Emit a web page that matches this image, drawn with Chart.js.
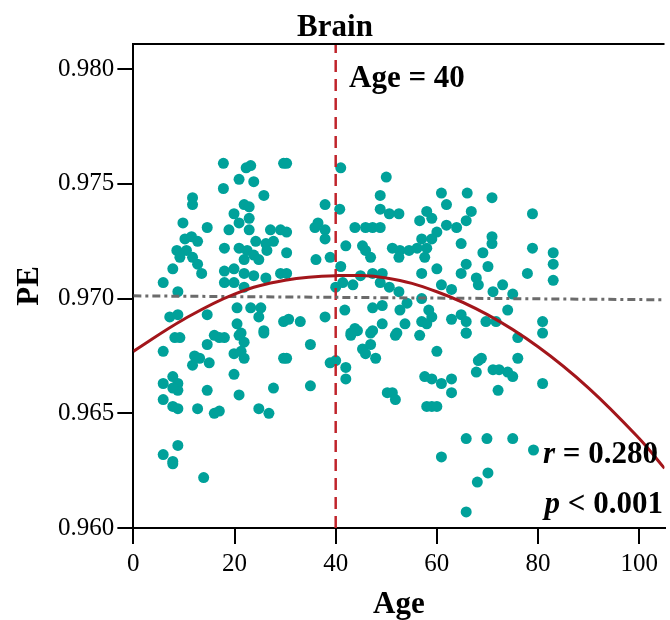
<!DOCTYPE html>
<html>
<head>
<meta charset="utf-8">
<script src="https://cdn.jsdelivr.net/npm/chart.js@4"></script>
<style>
  html, body { margin: 0; padding: 0; background: #fff; }
  #wrap { width: 670px; height: 620px; }
</style>
</head>
<body>
<div id="wrap"><canvas id="brain" width="670" height="620"></canvas></div>
<script>
// scatter points (age, PE)
const ages = [
  8.2, 9.2, 5.9, 12.1, 11.7, 13.1, 15.0, 14.6, 17.0, 18.0, 19.9, 20.9, 21.9, 21.9, 21.3, 25.8, 29.7, 19.9,
  5.9, 7.8, 8.8, 8.8, 7.8, 5.9, 7.8, 8.8, 12.7, 14.6, 20.9, 27.7, 16.0, 17.0, 24.8, 26.8, 5.9, 8.8, 7.8, 7.8, 13.9,
  35.0, 30.3, 38.9, 40.0, 42.0, 42.0, 35.0, 43.0, 44.3, 45.3, 46.9, 45.9, 47.9, 46.9, 51.8, 56.6, 50.2, 51.2, 51.8, 57.6, 58.0,
  65.8, 60.0, 59.0, 60.9, 62.9, 62.9, 59.0, 60.0, 68.2, 68.8, 67.8, 71.1, 72.3, 74.0, 75.0, 72.1, 76.0, 76.0, 80.9,
  65.8, 69.9, 75.0, 60.9, 70.1, 68.0, 79.1, 65.8,
  17.8, 22.3, 23.2, 20.9, 23.8, 17.8, 25.8, 29.7, 11.7, 11.7, 21.9, 22.9, 22.9, 19.9, 9.8, 14.6, 18.9, 20.9, 22.9,
  10.2, 11.5, 12.7, 27.1, 29.1, 24.2, 26.2, 27.7, 18.0, 8.6, 10.5, 20.9, 22.5, 9.2, 11.7, 23.8, 26.4, 12.7, 21.9, 24.8,
  7.8, 13.5, 18.0, 19.9, 21.9, 23.8, 26.2, 29.1, 5.9, 8.8, 18.0, 19.9, 21.9, 7.2, 8.8, 14.6, 20.5, 23.2, 25.2,
  20.5, 21.3, 24.8, 25.8, 16.0, 29.7,
  30.3, 41.0, 50.0, 48.8, 37.9, 40.8, 48.8, 50.6, 52.5, 56.6, 36.5, 35.9, 37.9, 37.9, 43.8, 45.9, 47.3, 48.8, 30.3,
  42.0, 45.3, 45.9, 46.9, 51.2, 52.7, 54.5, 56.1, 57.0, 30.3, 36.1, 38.9, 41.0, 52.5, 57.0, 30.3, 44.9, 47.3, 49.2,
  41.4, 43.4, 40.0, 48.8, 50.6, 52.5, 57.0, 47.3, 49.2, 52.7, 54.1, 41.8, 37.9, 33.0, 30.7, 43.8, 43.0, 47.3, 49.2,
  52.1, 53.7, 57.0,
  60.9, 61.9, 66.0, 70.9, 78.9, 66.8, 65.8, 58.0, 59.0, 61.9, 63.9, 60.0, 59.0, 58.0, 57.6, 64.8, 70.9, 70.9, 78.9,
  83.0, 83.0, 83.0, 69.1, 70.1, 65.8, 64.8, 60.0, 77.9, 67.8, 68.2, 60.9, 62.9, 71.1, 73.0, 75.0, 74.0, 58.4, 59.0,
  58.0, 62.9, 64.8, 65.8, 69.7, 71.7, 80.9, 80.9, 65.8
];
const pe = [
  0.9683, 0.9683, 0.9677, 0.9675, 0.9671, 0.9674, 0.9672, 0.9680, 0.9683, 0.9683, 0.9676, 0.9684, 0.9681, 0.9674, 0.9677, 0.9685, 0.9674, 0.9667,
  0.9663, 0.9666, 0.9663, 0.9660, 0.9661, 0.9656, 0.9653, 0.9652, 0.9652, 0.9660, 0.9658, 0.9661, 0.9650, 0.9651, 0.9652, 0.9650, 0.9632, 0.9636, 0.9628, 0.9629, 0.9622,
  0.9680, 0.9674, 0.9672, 0.9673, 0.9670, 0.9665, 0.9662, 0.9684, 0.9686, 0.9678, 0.9680, 0.9676, 0.9674, 0.9685, 0.9684, 0.9684, 0.9659, 0.9659, 0.9656, 0.9666, 0.9653,
  0.9685, 0.9677, 0.9665, 0.9663, 0.9665, 0.9659, 0.9653, 0.9653, 0.9673, 0.9674, 0.9668, 0.9669, 0.9669, 0.9668, 0.9666, 0.9660, 0.9674, 0.9683, 0.9663,
  0.9639, 0.9639, 0.9639, 0.9631, 0.9624, 0.9620, 0.9634, 0.9607,
  0.9759, 0.9757, 0.9758, 0.9752, 0.9751, 0.9748, 0.9745, 0.9759, 0.9744, 0.9741, 0.9741, 0.9740, 0.9735, 0.9737, 0.9733, 0.9731, 0.9730, 0.9733, 0.9730,
  0.9726, 0.9727, 0.9725, 0.9730, 0.9730, 0.9725, 0.9724, 0.9725, 0.9722, 0.9721, 0.9721, 0.9722, 0.9721, 0.9718, 0.9718, 0.9719, 0.9721, 0.9715, 0.9717, 0.9717,
  0.9713, 0.9711, 0.9712, 0.9713, 0.9711, 0.9710, 0.9709, 0.9711, 0.9707, 0.9703, 0.9707, 0.9707, 0.9705, 0.9692, 0.9693, 0.9693, 0.9696, 0.9696, 0.9696,
  0.9689, 0.9685, 0.9692, 0.9686, 0.9684, 0.9690,
  0.9759, 0.9757, 0.9753, 0.9745, 0.9741, 0.9739, 0.9739, 0.9737, 0.9737, 0.9734, 0.9733, 0.9731, 0.9730, 0.9726, 0.9731, 0.9731, 0.9731, 0.9731, 0.9729,
  0.9723, 0.9723, 0.9721, 0.9718, 0.9722, 0.9721, 0.9721, 0.9722, 0.9726, 0.9720, 0.9717, 0.9718, 0.9714, 0.9718, 0.9711, 0.9711, 0.9710, 0.9711, 0.9711,
  0.9707, 0.9706, 0.9705, 0.9707, 0.9705, 0.9703, 0.9700, 0.9696, 0.9697, 0.9695, 0.9698, 0.9695, 0.9692, 0.9690, 0.9691, 0.9687, 0.9685, 0.9686, 0.9689,
  0.9685, 0.9689, 0.9690,
  0.9746, 0.9741, 0.9746, 0.9744, 0.9737, 0.9738, 0.9734, 0.9738, 0.9735, 0.9732, 0.9731, 0.9729, 0.9726, 0.9722, 0.9718, 0.9724, 0.9727, 0.9724, 0.9722,
  0.9720, 0.9715, 0.9708, 0.9720, 0.9714, 0.9715, 0.9711, 0.9713, 0.9711, 0.9709, 0.9706, 0.9706, 0.9704, 0.9703, 0.9706, 0.9702, 0.9695, 0.9695, 0.9692,
  0.9689, 0.9691, 0.9693, 0.9690, 0.9690, 0.9690, 0.9690, 0.9685, 0.9685
];

// quadratic fit curve, read at these ages
const fitAges = [0, 10, 20, 30, 40, 50, 60, 70, 80, 90, 100, 105];
const fitPE = [0.9677, 0.9691, 0.9702, 0.9708, 0.9710, 0.9709, 0.9703, 0.9693, 0.9679, 0.9661, 0.9639, 0.9626];

// linear reference line (grey dash-dot) and the age marker
const refAges = [0, 105];
const refPE = [0.97012, 0.96995];
const markAge = 40;

const xTicks = [0, 20, 40, 60, 80, 100];
const yTicks = [0.960, 0.965, 0.970, 0.975, 0.980];

const serif = "'Liberation Serif', 'Times New Roman', serif";

const points = ages.map((a, i) => ({x: a, y: pe[i]}));
const fit = fitAges.map((a, i) => ({x: a, y: fitPE[i]}));
const ref = refAges.map((a, i) => ({x: a, y: refPE[i]}));

const extras = {
    id: 'extras',
    afterDatasetsDraw(chart) {
        const ctx = chart.ctx;
        const area = chart.chartArea;
        ctx.save();
        // top frame line
        ctx.strokeStyle = '#000';
        ctx.lineWidth = 2;
        ctx.beginPath();
        ctx.moveTo(area.left - 1, area.top);
        ctx.lineTo(area.right, area.top);
        ctx.stroke();

        ctx.fillStyle = '#000';
        ctx.textBaseline = 'alphabetic';
        ctx.textAlign = 'left';
        ctx.font = 'bold 31px ' + serif;
        ctx.fillText('Age = 40', 349, 87);

        // right-aligned stats with italic letter
        function stat(letter, rest, right, base) {
            ctx.font = 'bold 31px ' + serif;
            const wRest = ctx.measureText(rest).width;
            ctx.font = 'italic bold 31px ' + serif;
            const wLet = ctx.measureText(letter).width;
            const x0 = right - wRest - wLet;
            ctx.fillText(letter, x0, base);
            ctx.font = 'bold 31px ' + serif;
            ctx.fillText(rest, x0 + wLet, base);
        }
        stat('r', ' = 0.280', 658, 463);
        stat('p', ' < 0.001', 663, 513);
        ctx.restore();
    }
};

let brain = new Chart(document.getElementById('brain').getContext('2d'), {
    type: 'scatter',
    data: {
        datasets: [
            {
                label: 'Subjects',
                data: points,
                backgroundColor: '#00a19a',
                borderWidth: 0,
                pointRadius: 5.5,
                order: 5
            },
            {
                label: 'Quadratic fit',
                type: 'line',
                data: fit,
                borderColor: '#a3161b',
                borderWidth: 3,
                pointRadius: 0,
                tension: 0.4,
                fill: false,
                order: 1
            },
            {
                label: 'Linear',
                type: 'line',
                data: ref,
                borderColor: '#6b6b6b',
                borderWidth: 3,
                borderDash: [8, 4, 3, 4],
                pointRadius: 0,
                fill: false,
                order: 2
            },
            {
                label: 'Age 40',
                type: 'line',
                data: [{x: markAge, y: 0.960}, {x: markAge, y: 0.9811}],
                borderColor: '#c0242b',
                borderWidth: 2.5,
                borderDash: [12, 7],
                pointRadius: 0,
                fill: false,
                order: 3
            }
        ]
    },
    options: {
        responsive: false,
        animation: false,
        layout: { padding: 0 },
        plugins: {
            legend: { display: false },
            tooltip: { enabled: false },
            title: {
                display: true,
                text: 'Brain',
                color: '#000',
                font: { family: serif, size: 31, weight: 'bold', lineHeight: 1.0 },
                padding: { top: 12, bottom: 1 }
            }
        },
        scales: {
            x: {
                type: 'linear',
                min: 0,
                max: 105,
                afterBuildTicks: s => { s.ticks = xTicks.map(v => ({value: v})); },
                ticks: {
                    color: '#000',
                    padding: 5,
                    maxRotation: 0,
                    font: { family: serif, size: 25 }
                },
                grid: { display: true, drawOnChartArea: false, drawTicks: true, tickLength: 16, color: '#000', lineWidth: 2 },
                border: { display: true, color: '#000', width: 2 },
                title: {
                    display: true,
                    text: 'Age',
                    color: '#000',
                    font: { family: serif, size: 31, weight: 'bold', lineHeight: 1.0 },
                    padding: { top: 5, bottom: 0 }
                }
            },
            y: {
                type: 'linear',
                min: 0.960,
                max: 0.9811,
                afterBuildTicks: s => { s.ticks = yTicks.map(v => ({value: v})); },
                ticks: {
                    color: '#000',
                    padding: 3,
                    font: { family: serif, size: 25 },
                    callback: v => v.toFixed(3)
                },
                grid: { display: true, drawOnChartArea: false, drawTicks: true, tickLength: 16, color: '#000', lineWidth: 2 },
                border: { display: true, color: '#000', width: 2 },
                title: {
                    display: true,
                    text: 'PE',
                    color: '#000',
                    font: { family: serif, size: 31, weight: 'bold', lineHeight: 1.1 },
                    padding: { top: 13, bottom: 8 }
                }
            }
        }
    },
    plugins: [extras]
});
</script>
</body>
</html>
